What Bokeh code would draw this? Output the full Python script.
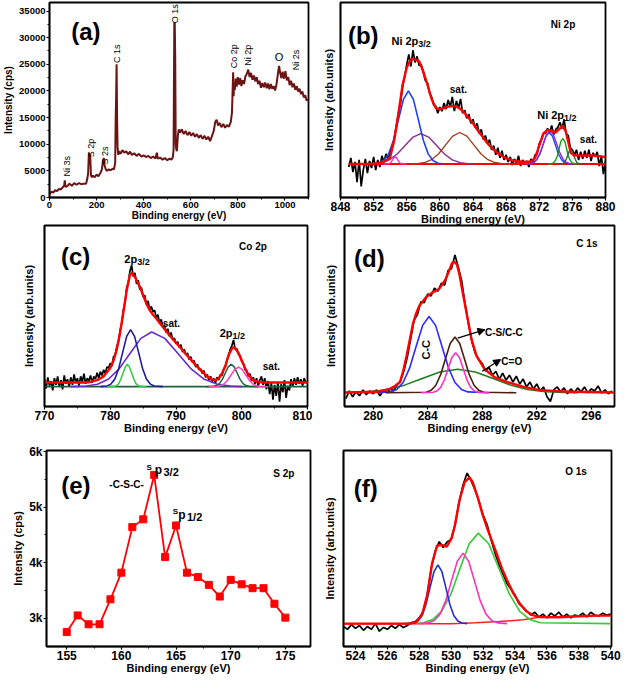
import math
from bokeh.plotting import figure
from bokeh.models import Range1d, Label, Arrow, NormalHead, FixedTicker
from bokeh.layouts import column, row
from bokeh.embed import file_html
from bokeh.resources import INLINE

FONT = "Liberation Sans"

# ---------------- (a) survey spectrum: (binding energy eV, counts) ----------------
a_points = [(0, 600), (8, 1100), (16, 900), (24, 1400), (32, 1200), (40, 1600), (48, 1500), (56, 1900),
            (62, 2200), (65, 3200), (68, 2000), (75, 2100), (85, 2600), (95, 2200), (105, 2700), (115, 2400),
            (125, 2700), (135, 2500), (145, 2600), (155, 2600), (160, 3400), (164, 4500), (167, 8000), (170, 8300),
            (173, 7800), (176, 4200), (179, 3800), (185, 4100), (192, 3800), (200, 4300), (208, 4000), (216, 4600),
            (222, 5200), (227, 6800), (231, 7400), (234, 6000), (238, 5400), (244, 5000), (252, 5300), (260, 5100),
            (268, 5400), (274, 5300), (279, 6500), (281, 14500), (283, 19000), (285, 25000), (287, 15000), (289, 9500),
            (292, 8000), (296, 8700), (302, 8200), (310, 8900), (318, 8400), (326, 8700), (334, 8100), (342, 8600),
            (350, 8000), (360, 8300), (370, 7800), (380, 8200), (390, 7700), (400, 7900), (410, 7600), (420, 7800),
            (430, 7400), (440, 7700), (450, 7300), (456, 8400), (460, 7300), (470, 7500), (480, 7100), (490, 7400),
            (500, 7000), (510, 7300), (518, 7100), (524, 7600), (527, 9000), (530, 32900), (532, 32700), (534, 26000),
            (536, 10000), (538, 9200), (541, 8700), (545, 11500), (549, 12800), (555, 12200), (562, 12800), (570, 11900),
            (578, 12500), (586, 11700), (594, 12300), (602, 11600), (610, 12100), (618, 11400), (626, 11900), (634, 11200),
            (642, 11700), (650, 11000), (658, 11600), (666, 10900), (674, 11400), (682, 10600), (690, 11500), (698, 12600),
            (704, 14200), (710, 14600), (716, 13500), (722, 14000), (730, 13200), (738, 13800), (746, 13100), (754, 13600),
            (762, 13300), (770, 14200), (775, 16000), (778, 20500), (780, 23500), (782, 19000), (784, 21500), (787, 20200),
            (791, 22300), (795, 20800), (800, 22600), (805, 21200), (810, 22400), (815, 20900), (820, 22000), (826, 21300),
            (832, 22700), (838, 23200), (844, 24000), (850, 22600), (856, 23400), (862, 22100), (868, 22900), (874, 21800),
            (880, 22600), (886, 21300), (892, 21900), (898, 20600), (904, 21500), (910, 20700), (916, 21600), (922, 20500),
            (928, 21400), (934, 20300), (940, 21300), (946, 20400), (952, 20900), (958, 20100), (964, 21200), (970, 23200),
            (975, 24700), (980, 23300), (985, 22400), (990, 23600), (996, 22300), (1002, 23700), (1008, 22000), (1014, 22600),
            (1020, 21100), (1026, 21900), (1032, 20700), (1038, 21400), (1044, 20200), (1050, 20900), (1056, 19900),
            (1062, 20400), (1068, 19400), (1074, 19900), (1080, 18800), (1086, 19200), (1092, 18200), (1098, 18400)]
a_energy = [p[0] for p in a_points]
a_counts = [p[1] for p in a_points]
a_xticks = [0, 200, 400, 600, 800, 1000]
a_yticks = [0, 5000, 10000, 15000, 20000, 25000, 30000, 35000]

# ---------------- (b) Ni 2p ----------------
b_start, b_step = 849.0, 0.25
b_counts = [-3, 6, -8, 2, -18, 4, -22, -6, 5, -9, 3, -4, 7, -6, 4, -3,
            8, 2, 10, 4, 12, 16, 26, 38, 50, 60, 76, 86, 98, 108, 96, 112,
            100, 106, 97, 98, 90, 82, 80, 70, 66, 58, 57, 50, 56, 52, 60, 54,
            63, 56, 66, 52, 62, 55, 64, 50, 53, 45, 49, 40, 44, 36, 40, 30,
            34, 24, 28, 20, 24, 14, 18, 9, 16, 6, 13, 4, 9, 2, 7, -1,
            5, 1, 8, -2, 4, 0, 3, -3, 5, 2, 9, 10, 20, 24, 30, 30,
            35, 31, 38, 29, 34, 36, 41, 35, 44, 30, 28, 16, 14, 9, 14, 4,
            12, 5, 13, 6, 14, 3, 11, 7, 12, -2, 8, -10, 3]
b_fit_x = [849, 851.5, 852, 852.5, 853, 853.5, 854, 854.5, 855, 855.5, 856, 856.5, 857, 857.5, 858, 858.5, 859, 859.5,
           860, 860.5, 861, 861.5, 862, 862.5, 863, 863.5, 864, 864.5, 865, 865.5, 866, 866.5, 867, 868, 869, 870,
           871, 871.5, 872, 872.5, 873, 873.5, 874, 874.5, 874.8, 875.2, 875.5, 875.8, 876.2, 877, 878.5, 879.5, 880]
b_fit_y = [0, 0, 0, 0.5, 1.5, 3, 7, 24, 50, 78, 95, 103, 103, 101, 91, 78, 64, 55,
           54, 55, 56.5, 57, 56.5, 54, 50, 45, 40, 34, 28.5, 23, 18, 14, 10.5, 5.5, 3, 2,
           2.5, 6, 18, 30, 33.5, 32.5, 31, 35, 37.5, 32, 22, 11, 8.5, 8.3, 8.3, 7.5, 6.5]
b_base_x = [849, 880]
b_base_y = [0, 0]
b_blue_x = [851.5, 852.6, 853.2, 853.8, 854.4, 855.0, 855.6, 856.2, 856.8, 857.4, 858.0, 858.6, 859.2, 859.8, 860.5]
b_blue_y = [0, 0.8, 3.2, 9.7, 23.4, 43.7, 63.6, 72, 63.6, 43.7, 23.4, 9.7, 3.2, 0.8, 0]
b_purple_x = [851.0, 852.0, 852.95, 853.9, 854.85, 855.8, 856.75, 857.7, 858.65, 859.6, 860.55, 861.5, 862.45, 863.4, 864.0]
b_purple_y = [0, 0.3, 1.3, 4.1, 9.8, 18.2, 26.5, 30, 26.5, 18.2, 9.8, 4.1, 1.3, 0.3, 0]
b_brown_x = [856.5, 857.3, 858.15, 859.0, 859.85, 860.7, 861.55, 862.4, 863.25, 864.1, 864.95, 865.8, 866.65, 867.5, 868.5]
b_brown_y = [0, 0.3, 1.4, 4.2, 10.1, 18.8, 27.4, 31, 27.4, 18.8, 10.1, 4.2, 1.4, 0.3, 0]
b_pink_x = [853.2, 853.7, 853.85, 854.0, 854.15, 854.3, 854.45, 854.6, 854.75, 854.9, 855.05, 855.2, 855.35, 855.5, 856.0]
b_pink_y = [0, 0.1, 0.3, 0.9, 2.3, 4.2, 6.2, 7, 6.2, 4.2, 2.3, 0.9, 0.3, 0.1, 0]
b_violet_x = [870.3, 870.9, 871.3, 871.7, 872.1, 872.5, 872.9, 873.3, 873.7, 874.1, 874.5, 874.9, 875.3, 875.7, 876.2]
b_violet_y = [0, 0.4, 1.5, 4.5, 10.7, 20.0, 29.1, 33, 29.1, 20.0, 10.7, 4.5, 1.5, 0.4, 0]
b_blue2_x = [870.5, 871.0, 871.35, 871.7, 872.1, 872.45, 872.8, 873.2, 873.6, 873.95, 874.3, 874.7, 875.05, 875.4, 876.0]
b_blue2_y = [0, 0.3, 1.4, 4.2, 10.1, 18.8, 27.4, 31, 27.4, 18.8, 10.1, 4.2, 1.4, 0.3, 0]
b_green_x = [873.0, 873.5, 873.7, 873.95, 874.2, 874.4, 874.6, 874.85, 875.1, 875.3, 875.5, 875.75, 876.0, 876.2, 876.7]
b_green_y = [0, 0.3, 1.1, 3.4, 8.1, 15.2, 22.1, 25, 22.1, 15.2, 8.1, 3.4, 1.1, 0.3, 0]
b_dkgreen_x = [874.3, 874.75, 874.9, 875.1, 875.25, 875.45, 875.6, 875.8, 876.0, 876.15, 876.35, 876.5, 876.7, 876.85, 877.3]
b_dkgreen_y = [0, 0.2, 0.6, 1.9, 4.6, 8.5, 12.4, 14, 12.4, 8.5, 4.6, 1.9, 0.6, 0.2, 0]
b_xticks = [848, 852, 856, 860, 864, 868, 872, 876, 880]

# ---------------- (c) Co 2p ----------------
c_start, c_step = 770.0, 0.25
c_counts = [8, -2, 10, 1, 6, -4, 9, 2, 11, 0, 7, -3, 12, 3, 8, 0,
            10, 2, 13, 4, 9, 1, 11, 5, 14, 3, 9, 6, 12, 4, 11, 8,
            15, 9, 16, 12, 18, 14, 21, 20, 25, 22, 32, 34, 43, 48, 60, 68,
            82, 90, 106, 112, 124, 130, 118, 122, 110, 114, 104, 106, 96, 98, 88, 92,
            82, 86, 80, 82, 74, 77, 68, 72, 64, 66, 58, 62, 54, 58, 50, 52,
            46, 48, 42, 45, 37, 40, 34, 36, 29, 32, 26, 28, 21, 24, 18, 19,
            14, 17, 10, 13, 7, 11, 5, 9, 4, 10, 7, 13, 12, 19, 21, 28,
            33, 40, 44, 50, 40, 41, 35, 33, 27, 25, 18, 17, 11, 14, 6, 10,
            3, 9, 1, 7, 11, 2, 9, -3, 6, -8, 4, -14, 2, -10, 5, -16,
            3, -6, 7, -12, 1, -4, 8, 0, 9, 2, 10, 3, 8, 1, 9, 4, 6]
c_fit_x = [770, 776, 777, 778, 779, 780, 780.5, 781, 781.5, 782, 782.5, 783, 783.3, 783.8, 784.5, 785, 785.5, 786,
           786.5, 787, 787.5, 788, 788.5, 789, 789.5, 790, 790.5, 791, 791.5, 792, 792.5, 793, 793.5, 794, 794.5,
           795, 795.5, 796, 796.5, 797, 797.5, 798, 798.6, 799, 799.5, 800, 800.5, 801, 801.5, 802, 803, 810]
c_fit_y = [4.5, 4.5, 5, 7, 11, 20, 28, 40, 58, 80, 103, 120, 122, 117, 107, 98, 89, 82,
           77, 73, 68.5, 64, 59.5, 55, 51, 47, 43, 39, 35, 31, 27, 23, 19.5, 16, 12.5,
           9.5, 7.5, 7, 9, 14, 22, 34, 42, 41, 36, 28, 20, 13, 8, 6, 4.5, 4.5]
c_base_x = [770, 810]
c_base_y = [0, 0]
c_navy_x = [778.5, 779.5, 780.1, 780.7, 781.3, 781.9, 782.5, 783.1, 783.7, 784.3, 784.9, 785.5, 786.1, 786.7, 788.0]
c_navy_y = [0, 0.7, 2.7, 8.2, 19.8, 37.0, 53.9, 61, 53.9, 37.0, 19.8, 8.2, 2.7, 0.7, 0]
c_green_x = [779.5, 780.65, 780.95, 781.3, 781.6, 781.95, 782.3, 782.6, 782.9, 783.25, 783.6, 783.9, 784.25, 784.55, 785.5]
c_green_y = [0, 0.3, 1.1, 3.2, 7.8, 14.6, 21.2, 24, 21.2, 14.6, 7.8, 3.2, 1.1, 0.3, 0]
c_purple_x = [774.0, 776.4, 778.05, 779.7, 781.35, 783.0, 784.65, 786.3, 788.3, 790.3, 792.3, 794.3, 796.3, 798.3, 800.0]
c_purple_y = [0, 0.6, 2.6, 7.9, 19.0, 35.5, 51.7, 58.5, 51.7, 35.5, 19.0, 7.9, 2.6, 0.6, 0]
c_dkgreen_x = [794.5, 795.7, 796.15, 796.6, 797.05, 797.5, 797.95, 798.4, 798.85, 799.3, 799.75, 800.2, 800.65, 801.1, 802.5]
c_dkgreen_y = [0, 0.3, 1.1, 3.2, 7.8, 14.6, 21.2, 24, 21.2, 14.6, 7.8, 3.2, 1.1, 0.3, 0]
c_pink_x = [795.0, 796.2, 796.75, 797.3, 797.85, 798.4, 798.95, 799.5, 800.05, 800.6, 801.15, 801.7, 802.25, 802.8, 804.0]
c_pink_y = [0, 0.2, 0.9, 2.8, 6.8, 12.7, 18.5, 21, 18.5, 12.7, 6.8, 2.8, 0.9, 0.2, 0]
c_xticks = [770, 780, 790, 800, 810]

# ---------------- (d) C 1s ----------------
d_start, d_step = 278.0, 0.25
d_counts = [-6, 2, -4, 1, -3, 3, -2, 2, -1, 3, -3, 2, 0, 4, 2, 8,
            12, 22, 36, 55, 74, 80, 93, 92, 101, 99, 107, 104, 112, 110, 125, 127,
            141, 128, 114, 90, 70, 52, 40, 34, 30, 22, 26, 18, 22, 14, 20, 13,
            18, 11, 17, 9, 14, 6, 11, 4, 9, 2, 6, -4, -9, 3, 6, 1,
            5, -1, 4, 0, 5, 1, 6, 0, 4, 2, 7, 0, 3, -1, 2]
d_fit_x = [277.9, 280.3, 281.26, 281.6, 281.97, 282.2, 282.45, 282.7, 282.93, 283.15, 283.4, 283.88, 284.36, 284.83,
           285.31, 285.55, 285.79, 285.97, 286.15, 286.33, 286.5, 286.86, 287.22, 287.58, 288.17, 288.89, 289.84,
           291.03, 292.23, 294.6, 297.7]
d_fit_y = [0.3, 1, 4.3, 7, 11, 22, 37.7, 55, 71, 81, 89.3, 97.7, 102.7, 106,
           116, 124, 132.7, 134, 131, 121, 107.7, 81, 54.3, 37.7, 24.3, 16, 11,
           6, 2.7, 1, 0.3]
d_blue_x = [279.5, 281.25, 281.73, 282.2, 282.68, 283.15, 283.63, 284.1, 284.58, 285.05, 285.53, 286.0, 286.48, 286.95, 288.5]
d_blue_y = [0, 0.9, 3.4, 10.5, 25.4, 47.3, 68.9, 78, 68.9, 47.3, 25.4, 10.5, 3.4, 0.9, 0]
d_brown_x = [281.0, 283.9, 284.25, 284.6, 284.95, 285.3, 285.65, 286.0, 286.35, 286.7, 287.05, 287.4, 287.75, 288.1, 290.5]
d_brown_y = [0, 0.6, 2.5, 7.7, 18.5, 34.6, 50.3, 57, 50.3, 34.6, 18.5, 7.7, 2.5, 0.6, 0]
d_pink_x = [283.5, 284.4, 284.68, 284.95, 285.23, 285.5, 285.78, 286.05, 286.33, 286.6, 286.88, 287.15, 287.43, 287.7, 288.5]
d_pink_y = [0, 0.5, 1.8, 5.5, 13.3, 24.9, 36.2, 41, 36.2, 24.9, 13.3, 5.5, 1.8, 0.5, 0]
d_green_x = [277.9, 278.4, 279.7, 281.0, 282.3, 283.6, 284.9, 286.2, 287.5, 288.8, 290.1, 291.4, 292.7, 294.0, 295.0]
d_green_y = [0, 0.3, 1.1, 3.2, 7.8, 14.6, 21.2, 24, 21.2, 14.6, 7.8, 3.2, 1.1, 0.3, 0]
d_xticks = [280, 284, 288, 292, 296]

# ---------------- (e) S 2p ----------------
e_energy = [155, 156, 157, 158, 159, 160, 161, 162, 163, 164, 165, 166, 167, 168, 169, 170, 171, 172, 173, 174, 175]
e_counts = [2750, 3050, 2890, 2890, 3340, 3820, 4640, 4780, 5580, 4100, 4670, 3820, 3740, 3600, 3390, 3690, 3610,
            3540, 3540, 3260, 3010]
e_xticks = [155, 160, 165, 170, 175]
e_yticks = [3000, 4000, 5000, 6000]
e_yticklabels = ["3k", "4k", "5k", "6k"]

# ---------------- (f) O 1s ----------------
f_start, f_step = 523.25, 0.25
f_counts = [-3, -6, -1, -5, -2, -7, -3, -6, 0, -8, -4, -6, -2, -5, -1,
            -4, -2, 1, 2, 6, 13, 30, 58, 76, 86, 80, 86, 88, 104, 128, 146,
            158, 150, 140, 128, 114, 104, 88, 74, 62, 52, 42, 36, 30, 21, 17, 13,
            9, 12, 7, 10, 6, 11, 8, 12, 7, 10, 6, 9, 8, 11, 7, 12, 9, 8, 11, 9, 10]
f_fit_x = [523.25, 527.38, 527.79, 528.19, 528.5, 528.8, 529.11, 529.41, 529.72, 530.03, 530.23, 530.53, 530.84,
           531.15, 531.35, 531.65, 531.96, 532.26, 532.57, 532.88, 533.18, 533.49, 533.89, 534.3, 534.71, 535.1,
           535.52, 536.74, 537.96, 539.19, 540.0]
f_fit_y = [0, 0, 1.3, 10, 30, 63, 81.7, 82.7, 80.7, 90, 103, 130, 148.4,
           153.4, 148.4, 133.4, 115, 100, 86, 72, 58, 46, 32, 21, 13, 9,
           7, 6.7, 7.7, 8.4, 8.4]
f_bg_x = [523.25, 530.0, 531.5, 533.0, 534.5, 535.52]
f_bg_y = [0, 0, 1, 2.2, 4, 6.7]
f_blue_x = [527.2, 527.67, 527.92, 528.17, 528.42, 528.67, 528.92, 529.17, 529.42, 529.67, 529.92, 530.17, 530.42, 530.67, 531.0]
f_blue_y = [0, 0.7, 2.7, 8.3, 20.1, 37.5, 54.5, 61.7, 54.5, 37.5, 20.1, 8.3, 2.7, 0.7, 0]
f_pink_x = [528.0, 528.58, 528.94, 529.3, 529.66, 530.02, 530.38, 530.74, 531.1, 531.46, 531.82, 532.18, 532.54, 532.9, 533.5]
f_pink_y = [0, 0.8, 3.3, 10.0, 24.1, 44.9, 65.3, 74, 65.3, 44.9, 24.1, 10.0, 3.3, 0.8, 0]
f_green_x = [527.0, 528.25, 528.83, 529.4, 529.98, 530.55, 531.13, 531.7, 532.35, 533.0, 533.65, 534.3, 534.95, 535.6, 540.0]
f_green_y = [0, 1.0, 4.2, 12.8, 30.9, 57.7, 83.9, 95, 83.9, 57.7, 30.9, 12.8, 4.2, 1.0, 0]
f_xticks = [524, 526, 528, 530, 532, 534, 536, 538, 540]


def grid_x(start, step, values):
    return [start + step * i for i in range(len(values))]


def make_fig(w, h, xr, yr, bl, br, bt, bb, overlap=0):
    kw = {}
    if overlap:
        kw["margin"] = (0, 0, -overlap, 0)
    p = figure(width=w, height=h, x_range=Range1d(*xr), y_range=Range1d(*yr),
               output_backend="svg", toolbar_location=None,
               min_border_left=bl, min_border_right=br, min_border_top=bt, min_border_bottom=bb, **kw)
    p.grid.visible = False
    p.outline_line_color = "black"
    p.outline_line_width = 1.8
    p.outline_line_alpha = 1.0
    p.background_fill_color = "white"
    p.border_fill_alpha = 0.0
    return p


def style_axis(ax, label, ticks, minor, tick_fs, label_fs, overrides=None, label_standoff=-1):
    ax.axis_label = label
    ax.axis_label_text_font = FONT
    ax.axis_label_text_font_style = "bold"
    ax.axis_label_text_font_size = label_fs
    ax.axis_label_text_color = "black"
    ax.axis_label_standoff = label_standoff
    ax.ticker = FixedTicker(ticks=ticks, minor_ticks=minor)
    ax.major_label_text_font = FONT
    ax.major_label_text_font_style = "bold"
    ax.major_label_text_font_size = tick_fs
    ax.major_label_text_color = "black"
    ax.major_label_standoff = 1
    ax.major_tick_in = 0
    ax.major_tick_out = 3
    ax.minor_tick_in = 0
    ax.minor_tick_out = 2
    ax.axis_line_width = 1.5
    ax.major_tick_line_width = 1.2
    if overrides:
        ax.major_label_overrides = overrides
    if not ticks:
        ax.major_tick_line_color = None
        ax.minor_tick_line_color = None


def lab(p, x, y, text, size, bold=True, align="left", angle=0.0, yoff=0, baseline="alphabetic"):
    p.add_layout(Label(x=x, y=y, text=text, text_font=FONT, text_font_size=f"{size}px",
                       text_font_style="bold" if bold else "normal", text_align=align,
                       text_baseline=baseline, angle=angle, y_offset=yoff, text_color="black"))


def sub_lab(p, x, y, main, sub, size, sub_size):
    lab(p, x, y, main, size, align="right")
    lab(p, x, y, sub, sub_size, align="left", yoff=-3)


DATA_W = 1.7
TOP_H = 228
TOP_OVERLAP = 8

# ---------------- panel (a) ----------------
pa = make_fig(312, TOP_H, (0, 1100), (0, 36600), 49, 4, 2, 24, TOP_OVERLAP)
style_axis(pa.xaxis[0], "Binding energy (eV)", a_xticks, [100, 300, 500, 700, 900, 1100], "9.5px", "10px")
style_axis(pa.yaxis[0], "Intensity (cps)", a_yticks, [2500 + 5000 * k for k in range(7)], "9.5px", "10px",
           label_standoff=2)
pa.line(a_energy, a_counts, line_color="#6b1414", line_width=2.0)
lab(pa, 92, 31200, "(a)", 24)
for (tx, ty, tt) in [(76, 5850, "Ni 3s"), (175, 9300, "S 2p"), (234, 7900, "S 2s"), (288, 27000, "C 1s"),
                     (531, 34500, "O 1s"), (782, 26500, "Co 2p"), (844, 26700, "Ni 2p"), (1047, 25800, "Ni 2s")]:
    lab(pa, tx, ty, tt, 9, bold=False, align="center", angle=math.pi / 2, baseline="middle")
lab(pa, 975, 26350, "O", 11, bold=False, align="center", baseline="middle")

# ---------------- panel (b) ----------------
pb = make_fig(310, TOP_H, (848, 880), (-33, 159), 28, 17, 1, 31, TOP_OVERLAP)
style_axis(pb.xaxis[0], "Binding energy (eV)", b_xticks, [850, 854, 858, 862, 866, 870, 874, 878], "12px", "11px")
style_axis(pb.yaxis[0], "Intensity (arb.units)", [], [], "12px", "11px", label_standoff=6)
pb.line(grid_x(b_start, b_step, b_counts), b_counts, line_color="black", line_width=DATA_W)
pb.line(b_base_x, b_base_y, line_color="#ff0000", line_width=1.8)
pb.line(b_purple_x, b_purple_y, line_color="#8e2c8e", line_width=1.4)
pb.line(b_brown_x, b_brown_y, line_color="#a0401a", line_width=1.4)
pb.line(b_blue_x, b_blue_y, line_color="#2040f0", line_width=1.6)
pb.line(b_pink_x, b_pink_y, line_color="#ff30c0", line_width=1.4)
pb.line(b_blue2_x, b_blue2_y, line_color="#2040f0", line_width=1.4)
pb.line(b_violet_x, b_violet_y, line_color="#8a2be2", line_width=1.4)
pb.line(b_green_x, b_green_y, line_color="#10a010", line_width=1.4)
pb.line(b_dkgreen_x, b_dkgreen_y, line_color="#1e6e3e", line_width=1.4)
pb.line(b_fit_x, b_fit_y, line_color="#ff0000", line_width=2.4)
lab(pb, 848.9, 127, "(b)", 24)
lab(pb, 873.4, 137, "Ni 2p", 10)
sub_lab(pb, 857.4, 121, "Ni 2p", "3/2", 11, 9)
lab(pb, 861.2, 73, "sat.", 10)
sub_lab(pb, 875.0, 48, "Ni 2p", "1/2", 11, 9)
lab(pb, 876.9, 24, "sat.", 10)

# ---------------- panel (c) ----------------
pc = make_fig(312, 220, (770, 810), (-21.3, 172.7), 44, 5, 5, 25)
style_axis(pc.xaxis[0], "Binding energy (eV)", c_xticks, [775, 785, 795, 805], "12px", "11px")
style_axis(pc.yaxis[0], "Intensity (arb.units)", [], [], "12px", "11px", label_standoff=10)
pc.line(grid_x(c_start, c_step, c_counts), c_counts, line_color="black", line_width=DATA_W)
pc.line(c_base_x, c_base_y, line_color="#1f5f3f", line_width=1.6)
pc.line(c_purple_x, c_purple_y, line_color="#6a2bc8", line_width=1.6)
pc.line(c_navy_x, c_navy_y, line_color="#1c1c9a", line_width=1.6)
pc.line(c_green_x, c_green_y, line_color="#30cc40", line_width=1.5)
pc.line(c_dkgreen_x, c_dkgreen_y, line_color="#1f5f3f", line_width=1.5)
pc.line(c_pink_x, c_pink_y, line_color="#ff40c0", line_width=1.5)
pc.line(c_fit_x, c_fit_y, line_color="#ff0000", line_width=2.4)
lab(pc, 772.5, 139, "(c)", 24)
lab(pc, 799.6, 150, "Co 2p", 10)
sub_lab(pc, 784.1, 137, "2p", "3/2", 11, 9)
lab(pc, 788.0, 68, "sat.", 10)
sub_lab(pc, 798.6, 57, "2p", "1/2", 11, 9)
lab(pc, 803.2, 22, "sat.", 10)

# ---------------- panel (d) ----------------
pd_ = make_fig(310, 220, (277.9, 297.7), (-14, 171), 32, 8, 5, 34)
style_axis(pd_.xaxis[0], "Binding energy (eV)", d_xticks, [282, 286, 290, 294], "12px", "11px")
style_axis(pd_.yaxis[0], "Intensity (arb.units)", [], [], "12px", "11px", label_standoff=8)
pd_.line(grid_x(d_start, d_step, d_counts), d_counts, line_color="black", line_width=DATA_W)
pd_.line(d_green_x, d_green_y, line_color="#1f7a1f", line_width=1.5)
pd_.line(d_blue_x, d_blue_y, line_color="#2a2aff", line_width=1.6)
pd_.line(d_brown_x, d_brown_y, line_color="#4a1f10", line_width=1.6)
pd_.line(d_pink_x, d_pink_y, line_color="#ff30c8", line_width=1.6)
pd_.line(d_fit_x, d_fit_y, line_color="#ff0000", line_width=2.4)
lab(pd_, 278.6, 137, "(d)", 24)
lab(pd_, 294.9, 153, "C 1s", 10)
lab(pd_, 283.9, 44, "C-C", 11, align="center", angle=math.pi / 2, baseline="middle")
lab(pd_, 288.2, 62, "C-S/C-C", 10)
lab(pd_, 289.4, 32, "C=O", 10)
pd_.add_layout(Arrow(end=NormalHead(size=7, fill_color="black", line_color="black"),
                     x_start=286.2, y_start=56, x_end=288.2, y_end=64.5, line_color="black", line_width=1.3))
pd_.add_layout(Arrow(end=NormalHead(size=7, fill_color="black", line_color="black"),
                     x_start=288.0, y_start=22, x_end=289.35, y_end=34, line_color="black", line_width=1.3))

# ---------------- panel (e) ----------------
pe = make_fig(312, 241, (153.15, 177.3), (2490, 6020), 46, 2, 10, 34)
style_axis(pe.xaxis[0], "Binding energy (eV)", e_xticks, [157.5, 162.5, 167.5, 172.5], "12px", "11px")
style_axis(pe.yaxis[0], "Intensity (cps)", e_yticks, [3500, 4500, 5500], "12px", "11px",
           overrides={t: s for t, s in zip(e_yticks, e_yticklabels)}, label_standoff=2)
pe.line(e_energy, e_counts, line_color="#ff0000", line_width=1.8)
pe.scatter(e_energy, e_counts, marker="square", size=7, fill_color="#ff0000", line_color="#ff0000")
lab(pe, 154.5, 5390, "(e)", 24)
lab(pe, 158.9, 5400, "-C-S-C-", 10)
lab(pe, 162.3, 5720, "S", 8)
lab(pe, 163.05, 5660, "p", 12)
lab(pe, 163.85, 5660, "3/2", 11, yoff=-2)
lab(pe, 164.7, 4920, "S", 8)
lab(pe, 165.2, 4850, "p", 12)
lab(pe, 166.0, 4850, "1/2", 11, yoff=-2)
lab(pe, 173.9, 5610, "S 2p", 10)

# ---------------- panel (f) ----------------
pf = make_fig(310, 241, (523.25, 540.05), (-24, 181.7), 31, 11, 5, 35)
style_axis(pf.xaxis[0], "Binding energy (eV)", f_xticks, [525, 527, 529, 531, 533, 535, 537, 539], "12px", "11px")
style_axis(pf.yaxis[0], "Intensity (arb.units)", [], [], "12px", "11px", label_standoff=8)
pf.line(grid_x(f_start, f_step, f_counts), f_counts, line_color="black", line_width=DATA_W)
pf.line(f_bg_x, f_bg_y, line_color="#ff2020", line_width=1.5)
pf.line(f_green_x, f_green_y, line_color="#33cc33", line_width=1.6)
pf.line(f_pink_x, f_pink_y, line_color="#ff33bb", line_width=1.6)
pf.line(f_blue_x, f_blue_y, line_color="#1f2fcc", line_width=1.6)
pf.line(f_fit_x, f_fit_y, line_color="#ff0000", line_width=2.4)
lab(pf, 523.9, 142, "(f)", 24)
lab(pf, 537.15, 160, "O 1s", 10)

layout = column(row(pa, pb), row(pc, pd_), row(pe, pf))
open("out.html", "w").write(file_html(layout, INLINE))
